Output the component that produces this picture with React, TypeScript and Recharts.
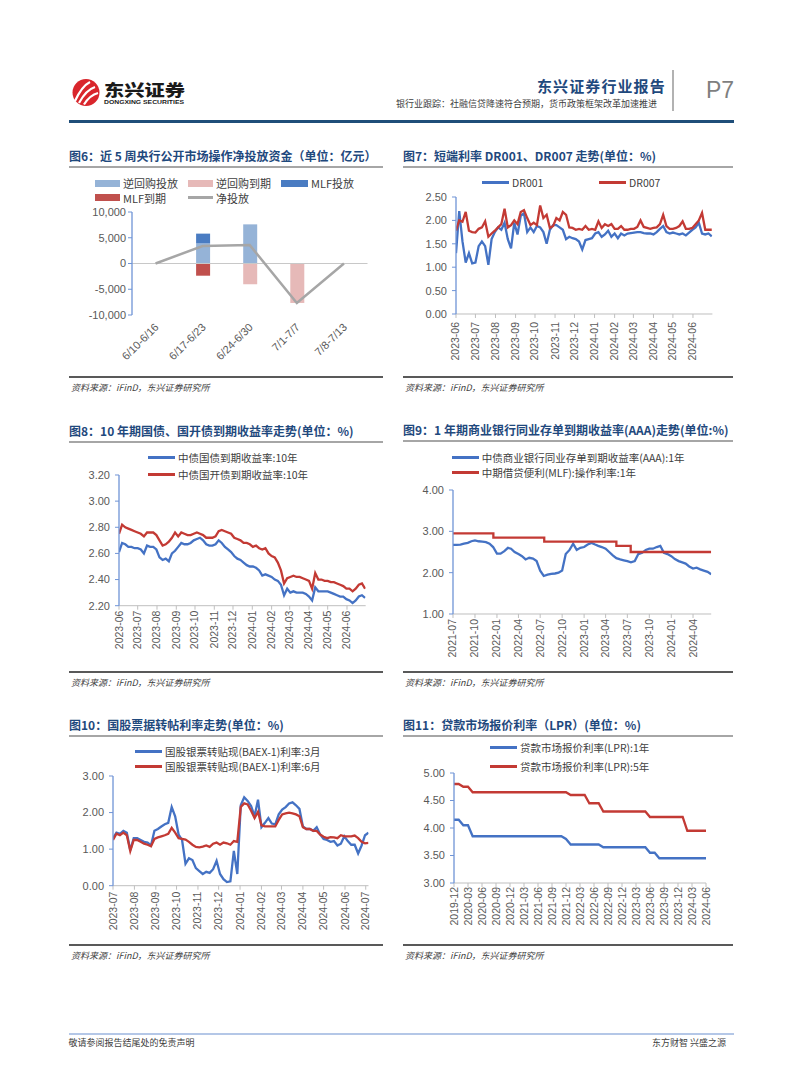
import React from 'react';
import { ComposedChart, LineChart, Line, Bar, XAxis, YAxis, ReferenceLine } from 'recharts';

const NUM_FONT = '"Liberation Sans", Arial, "Noto Sans CJK SC", sans-serif';
const CJK_FONT = '"Noto Sans CJK SC", "Noto Sans", sans-serif';
const TXT = '#595959';
const AXIS_BLUE = '#6F94D6';
const AXIS_GRAY = '#BFBFBF';
const BLUE = '#4472C4';
const RED = '#C33A34';
const DAY = 86400000;

// ---------------- Fig 6 data ----------------
const weekCats = ['6/10-6/16', '6/17-6/23', '6/24-6/30', '7/1-7/7', '7/8-7/13'];
const rrInject = [0, 3900, 7600, 0, 0];
const rrMature = [0, 0, -4030, -7660, 0];
const mlfInject = [0, 1900, 0, 0, 0];
const mlfMature = [0, -2370, 0, 0, 0];
const netInject = [0, 3400, 3570, -7660, 0];
const fig6Ticks = [-10000, -5000, 0, 5000, 10000];

// ---------------- Fig 7 data (5-day sampling from 2023-06-01) ----------------
const drStart = '2023-06-01';
const drEnd = '2024-07-01';
const dr001 = [1.30, 2.20, 1.55, 1.10, 1.30, 1.08, 1.10, 1.45, 1.55, 1.45,
  1.05, 1.60, 1.75, 1.85, 1.80, 1.95, 1.60, 1.40, 1.95, 1.70,
  2.10, 2.15, 1.75, 1.85, 1.75, 1.88, 1.85, 1.75, 1.50, 1.80,
  1.90, 1.90, 1.85, 1.80, 1.60, 1.65, 1.62, 1.60, 1.55, 1.38,
  1.58, 1.60, 1.62, 1.72, 1.75, 1.65, 1.70, 1.78, 1.65, 1.72,
  1.62, 1.72, 1.68, 1.72, 1.73, 1.74, 1.75, 1.75, 1.73, 1.72,
  1.72, 1.70, 1.75, 1.82, 1.88, 1.75, 1.72, 1.74, 1.72, 1.70,
  1.72, 1.68, 1.74, 1.80, 1.85, 1.95, 1.72, 1.70, 1.72, 1.66];
const dr007 = [1.78, 2.00, 1.97, 2.18, 1.78, 1.75, 1.74, 1.82, 1.85, 1.98,
  1.65, 1.72, 1.78, 1.85, 1.92, 2.25, 1.85, 1.90, 2.00, 1.92,
  2.18, 2.22, 2.05, 1.90, 1.95, 1.90, 2.32, 2.05, 2.12, 1.84,
  1.88, 2.05, 2.00, 2.18, 2.12, 1.85, 1.84, 1.80, 1.82, 1.80,
  1.88, 1.80, 1.82, 1.80, 1.98, 1.84, 1.92, 1.88, 1.92, 1.82,
  1.82, 1.88, 1.80, 1.80, 1.82, 1.82, 1.86, 2.00, 1.86, 1.84,
  1.82, 1.84, 1.85, 1.92, 2.12, 1.88, 1.82, 1.82, 1.84, 1.88,
  1.98, 1.82, 1.82, 1.84, 1.92, 2.00, 2.16, 1.80, 1.80, 1.80];
const drMonths = ['2023-06', '2023-07', '2023-08', '2023-09', '2023-10', '2023-11', '2023-12',
  '2024-01', '2024-02', '2024-03', '2024-04', '2024-05', '2024-06'];

// ---------------- Fig 8 data (5-day sampling from 2023-06-01) ----------------
const bondStart = '2023-06-01';
const bondEnd = '2024-07-01';
const gov10y = [2.61, 2.68, 2.67, 2.65, 2.65, 2.64, 2.64, 2.63, 2.60, 2.66,
  2.65, 2.65, 2.63, 2.57, 2.55, 2.56, 2.54, 2.60, 2.62, 2.65,
  2.68, 2.67, 2.67, 2.68, 2.70, 2.71, 2.72, 2.70, 2.67, 2.66,
  2.66, 2.67, 2.70, 2.68, 2.65, 2.63, 2.61, 2.58, 2.56, 2.55,
  2.53, 2.51, 2.50, 2.50, 2.49, 2.47, 2.43, 2.44, 2.43, 2.42,
  2.40, 2.39, 2.36, 2.28, 2.33, 2.30, 2.31, 2.30, 2.30, 2.30,
  2.29, 2.27, 2.24, 2.34, 2.31, 2.31, 2.31, 2.31, 2.30, 2.29,
  2.28, 2.27, 2.27, 2.25, 2.24, 2.22, 2.24, 2.27, 2.28, 2.26];
const cdb10y = [2.75, 2.82, 2.80, 2.79, 2.78, 2.77, 2.76, 2.75, 2.73, 2.76,
  2.76, 2.76, 2.74, 2.70, 2.66, 2.67, 2.69, 2.72, 2.76, 2.73,
  2.76, 2.75, 2.74, 2.74, 2.75, 2.76, 2.75, 2.74, 2.72, 2.72,
  2.72, 2.73, 2.77, 2.78, 2.77, 2.76, 2.75, 2.72, 2.71, 2.70,
  2.68, 2.68, 2.67, 2.65, 2.66, 2.64, 2.63, 2.64, 2.60, 2.58,
  2.57, 2.53, 2.47, 2.37, 2.41, 2.42, 2.43, 2.42, 2.42, 2.41,
  2.40, 2.39, 2.33, 2.45, 2.40, 2.40, 2.39, 2.39, 2.38, 2.38,
  2.37, 2.36, 2.35, 2.33, 2.33, 2.31, 2.33, 2.36, 2.37, 2.33];

// ---------------- Fig 9 data (semi-monthly from 2021-07) ----------------
const ncdStartMonth = '2021-07';
const ncdEnd = '2024-06-16';
const ncd1y = [2.67, 2.67, 2.68, 2.70, 2.72, 2.76, 2.78, 2.76, 2.75, 2.74, 2.70, 2.62,
  2.46, 2.46, 2.52, 2.60, 2.58, 2.50, 2.45, 2.40, 2.32, 2.36, 2.34, 2.28,
  2.05, 1.92, 1.95, 1.97, 1.98, 2.00, 2.05, 2.45, 2.55, 2.70, 2.55, 2.60,
  2.62, 2.68, 2.72, 2.68, 2.65, 2.62, 2.58, 2.50, 2.42, 2.35, 2.32, 2.30,
  2.28, 2.25, 2.28, 2.45, 2.48, 2.55, 2.58, 2.58, 2.62, 2.65, 2.48, 2.45,
  2.40, 2.33, 2.28, 2.25, 2.22, 2.15, 2.10, 2.12, 2.08, 2.05, 2.02, 1.96];
const mlfDates = ['2021-07-01', '2021-12-17', '2022-07-18', '2023-05-16', '2023-07-15', '2024-06-16'];
const mlfRate = [2.95, 2.85, 2.75, 2.65, 2.50, 2.50];
const ncdTickLabels = ['2021-07', '2021-10', '2022-01', '2022-04', '2022-07', '2022-10',
  '2023-01', '2023-04', '2023-07', '2023-10', '2024-01', '2024-04'];

// ---------------- Fig 10 data (5-day sampling from 2023-07-01) ----------------
const baexStart = '2023-07-01';
const baexEnd = '2024-07-05';
const baex3m = [1.30, 1.45, 1.42, 1.50, 1.45, 0.97, 1.30, 1.30, 1.25, 1.20,
  1.18, 1.10, 1.50, 1.55, 1.62, 1.68, 1.72, 2.15, 1.90, 1.40,
  1.25, 0.60, 0.75, 0.70, 0.48, 0.40, 0.32, 0.38, 0.35, 0.45,
  0.68, 0.32, 0.18, 0.10, 0.12, 0.95, 0.32, 2.20, 2.42, 2.32,
  2.18, 1.90, 2.35, 1.60, 1.72, 1.85, 1.70, 1.68, 1.95, 2.08,
  2.15, 2.25, 2.28, 2.20, 2.10, 1.62, 1.55, 1.55, 1.50, 1.60,
  1.40, 1.28, 1.25, 1.20, 1.22, 1.10, 1.15, 1.35, 1.22, 1.12,
  1.12, 0.88, 1.10, 1.38, 1.45];
const baex6m = [1.25, 1.42, 1.38, 1.45, 1.38, 0.95, 1.25, 1.25, 1.20, 1.15,
  1.12, 1.08, 1.28, 1.32, 1.35, 1.38, 1.42, 1.58, 1.45, 1.30,
  1.28, 1.26, 1.20, 1.12, 1.06, 1.05, 1.07, 1.10, 1.06, 1.15,
  1.18, 1.12, 1.18, 1.16, 1.12, 1.22, 1.20, 2.15, 2.25, 2.22,
  2.05, 1.85, 2.02, 1.65, 1.62, 1.62, 1.62, 1.62, 1.80, 1.95,
  1.98, 2.00, 1.98, 1.95, 1.90, 1.60, 1.55, 1.55, 1.50, 1.50,
  1.40, 1.34, 1.30, 1.33, 1.32, 1.30, 1.38, 1.35, 1.35, 1.35,
  1.37, 1.30, 1.20, 1.16, 1.17];
const baexMonths = ['2023-07', '2023-08', '2023-09', '2023-10', '2023-11', '2023-12', '2024-01',
  '2024-02', '2024-03', '2024-04', '2024-05', '2024-06', '2024-07'];

// ---------------- Fig 11 data (monthly from 2019-12) ----------------
const lprStartMonth = '2019-12';
const lpr1y = [4.15, 4.15, 4.05, 4.05, 3.85, 3.85, 3.85, 3.85, 3.85, 3.85,
  3.85, 3.85, 3.85, 3.85, 3.85, 3.85, 3.85, 3.85, 3.85, 3.85,
  3.85, 3.85, 3.85, 3.85, 3.80, 3.70, 3.70, 3.70, 3.70, 3.70,
  3.70, 3.70, 3.65, 3.65, 3.65, 3.65, 3.65, 3.65, 3.65, 3.65,
  3.65, 3.65, 3.55, 3.55, 3.45, 3.45, 3.45, 3.45, 3.45, 3.45,
  3.45, 3.45, 3.45, 3.45, 3.45];
const lpr5y = [4.80, 4.80, 4.75, 4.75, 4.65, 4.65, 4.65, 4.65, 4.65, 4.65,
  4.65, 4.65, 4.65, 4.65, 4.65, 4.65, 4.65, 4.65, 4.65, 4.65,
  4.65, 4.65, 4.65, 4.65, 4.65, 4.60, 4.60, 4.60, 4.60, 4.45,
  4.45, 4.45, 4.30, 4.30, 4.30, 4.30, 4.30, 4.30, 4.30, 4.30,
  4.30, 4.30, 4.20, 4.20, 4.20, 4.20, 4.20, 4.20, 4.20, 4.20,
  3.95, 3.95, 3.95, 3.95, 3.95];

// ---------------- helpers ----------------
const ts = (d: string) => Date.parse(d);
const daySeq = (start: string, step: number, n: number) =>
  Array.from({ length: n }, (_, i) => ts(start) + i * step * DAY);
const addMonths = (ym: string, k: number) => {
  const [y, m] = ym.split('-').map(Number);
  const tot = y * 12 + (m - 1) + k;
  return `${Math.floor(tot / 12)}-${String((tot % 12) + 1).padStart(2, '0')}`;
};
const monthFmt = (v: number) => new Date(v).toISOString().slice(0, 7);

const fig6Data = weekCats.map((c, i) => ({
  cat: c, rrIn: rrInject[i], rrOut: rrMature[i], mlfIn: mlfInject[i], mlfOut: mlfMature[i], net: netInject[i],
}));

const drT = daySeq(drStart, 5, dr001.length);
const fig7Data = drT.map((t, i) => ({ t, a: dr001[i], b: dr007[i] }));

const bondT = daySeq(bondStart, 5, gov10y.length);
const fig8Data = bondT.map((t, i) => ({ t, a: gov10y[i], b: cdb10y[i] }));

const ncdDates: string[] = [];
for (let k = 0; k < ncd1y.length / 2; k++) {
  const m = addMonths(ncdStartMonth, k);
  ncdDates.push(`${m}-01`, `${m}-16`);
}
const fig9Data = [
  ...ncdDates.map((d, i) => ({ t: ts(d), a: ncd1y[i] as number | null, b: null as number | null })),
  ...mlfDates.map((d, i) => ({ t: ts(d), a: null as number | null, b: mlfRate[i] as number | null })),
].sort((p, q) => p.t - q.t);

const baexT = daySeq(baexStart, 5, baex3m.length);
const fig10Data = baexT.map((t, i) => ({ t, a: baex3m[i], b: baex6m[i] }));

const fig11Data = lpr1y.map((v, i) => ({ m: addMonths(lprStartMonth, i), a: v, b: lpr5y[i] }));

// ---------------- components ----------------
const vTick = (fmt: (v: any) => string, gap: number) => (props: any) => {
  const { x, y, payload } = props;
  return (
    <text transform={`translate(${x},${y + gap}) rotate(-90)`} textAnchor="end" dominantBaseline="central"
      fontSize={10.5} fill={TXT} fontFamily={NUM_FONT}>{fmt(payload.value)}</text>
  );
};

const rotTick = (props: any) => {
  const { x, y, payload } = props;
  return (
    <text transform={`translate(${x + 1},${y + 8}) rotate(-45)`} textAnchor="end" dominantBaseline="central"
      fontSize={11} fill={TXT} fontFamily={NUM_FONT}>{payload.value}</text>
  );
};

type Series = { key: string; color: string; step?: boolean };

function TimeChart(p: {
  pl: number; pt: number; pr: number; pb: number; data: any[]; xDomain: [number, number]; xTicks: number[];
  yDomain: [number, number]; yTicks: number[]; series: Series[]; gap?: number;
}) {
  const yw = 50, xh = 50, mt = 5, mr = 10;
  const W = p.pr - p.pl + yw + mr;
  const H = p.pb - p.pt + mt + xh;
  return (
    <div style={{ position: 'absolute', left: p.pl - yw, top: p.pt - mt }}>
      <LineChart width={W} height={H} data={p.data} margin={{ top: mt, right: mr, left: 0, bottom: 0 }}>
        <XAxis type="number" dataKey="t" domain={p.xDomain} ticks={p.xTicks} interval={0} allowDataOverflow
          height={xh} axisLine={{ stroke: AXIS_GRAY }} tickLine={{ stroke: AXIS_GRAY }} tickSize={4} tickMargin={2}
          tick={vTick(monthFmt, p.gap ?? 0)} />
        <YAxis type="number" domain={p.yDomain} ticks={p.yTicks} interval={0} allowDataOverflow width={yw}
          axisLine={{ stroke: AXIS_BLUE, strokeWidth: 1.3 }} tickLine={{ stroke: AXIS_BLUE }} tickSize={4} tickMargin={5}
          tick={{ fontSize: 11, fill: TXT, fontFamily: NUM_FONT }} tickFormatter={(v: number) => v.toFixed(2)} />
        {p.series.map((s) => (
          <Line key={s.key} type={s.step ? 'stepAfter' : 'linear'} dataKey={s.key} stroke={s.color} strokeWidth={2.3}
            dot={false} activeDot={false} connectNulls isAnimationActive={false} />
        ))}
      </LineChart>
    </div>
  );
}

type LegItem = { kind: 'line' | 'rect'; color: string; label: string; x: number; y: number; w?: number; fs?: number };
const Legend = ({ items }: { items: LegItem[] }) => (
  <>
    {items.map((it, i) => (
      <div key={i} style={{
        position: 'absolute', left: it.x, top: it.y - 8, height: 16, display: 'flex', alignItems: 'center',
        whiteSpace: 'nowrap', fontFamily: CJK_FONT, fontSize: it.fs ?? 10.5, color: '#404040',
      }}>
        <span style={{ display: 'inline-block', width: it.w ?? 27, height: it.kind === 'line' ? 3 : 7, background: it.color, marginRight: 3 }} />
        <span>{it.label}</span>
      </div>
    ))}
  </>
);

const Title = ({ x, y, text }: { x: number; y: number; text: string }) => (
  <div style={{
    position: 'absolute', left: x, top: y - 9, height: 18, lineHeight: '18px', fontFamily: CJK_FONT,
    fontSize: 12, fontWeight: 700, color: '#1F497D', whiteSpace: 'nowrap',
  }}>{text}</div>
);
const HLine = ({ x1, x2, y, color, w }: { x1: number; x2: number; y: number; color: string; w: number }) => (
  <div style={{ position: 'absolute', left: x1, top: y - w / 2, width: x2 - x1, height: w, background: color }} />
);
const Source = ({ x, y }: { x: number; y: number }) => (
  <div style={{
    position: 'absolute', left: x, top: y - 7, lineHeight: '14px', fontFamily: CJK_FONT, fontSize: 9,
    fontStyle: 'italic', color: '#404040', whiteSpace: 'nowrap',
  }}>资料来源：iFinD，东兴证券研究所</div>
);

const Panel = ({ x1, x2, titleY, title, bottomY, source = true }: any) => (
  <>
    <Title x={x1} y={titleY} text={title} />
    <HLine x1={x1} x2={x2} y={titleY + 11} color="#A6A6A6" w={1.5} />
    <HLine x1={x1} x2={x2} y={bottomY} color="#595959" w={1.5} />
    {source && <Source x={x1 + 2} y={bottomY + 11} />}
  </>
);

function Fig6() {
  const pl = 132, pr = 367.5, pt = 212, pb = 315;
  const yw = 60, mt = 5, mr = 10, xh = 60;
  return (
    <div style={{ position: 'absolute', left: pl - yw, top: pt - mt }}>
      <ComposedChart width={pr - pl + yw + mr} height={pb - pt + mt + xh} data={fig6Data} stackOffset="sign"
        margin={{ top: mt, right: mr, left: 0, bottom: 0 }}>
        <XAxis dataKey="cat" scale="band" axisLine={false} tickLine={false} tickSize={0} tickMargin={2} height={xh}
          interval={0} tick={rotTick} />
        <YAxis type="number" domain={[-10000, 10000]} ticks={fig6Ticks} interval={0} width={yw}
          axisLine={{ stroke: AXIS_BLUE, strokeWidth: 1.3 }} tickLine={{ stroke: AXIS_BLUE }} tickSize={4} tickMargin={2}
          tick={{ fontSize: 11, fill: TXT, fontFamily: NUM_FONT }}
          tickFormatter={(v: number) => v.toLocaleString('en-US')} />
        <ReferenceLine y={0} stroke="#C8C8C8" strokeWidth={1.2} />
        <Bar dataKey="rrIn" stackId="s" fill="#95B3D7" barSize={14} isAnimationActive={false} />
        <Bar dataKey="rrOut" stackId="s" fill="#E6B9B8" barSize={14} isAnimationActive={false} />
        <Bar dataKey="mlfIn" stackId="s" fill="#4A7CC2" barSize={14} isAnimationActive={false} />
        <Bar dataKey="mlfOut" stackId="s" fill="#C0504D" barSize={14} isAnimationActive={false} />
        <Line type="linear" dataKey="net" stroke="#A6A6A6" strokeWidth={2.5} dot={false} activeDot={false} isAnimationActive={false} />
      </ComposedChart>
    </div>
  );
}

function Fig11() {
  const pl = 454, pr = 706, pt = 772.7, pb = 882.7;
  const yw = 50, xh = 50, mt = 5, mr = 10;
  return (
    <div style={{ position: 'absolute', left: pl - yw, top: pt - mt }}>
      <LineChart width={pr - pl + yw + mr} height={pb - pt + mt + xh} data={fig11Data}
        margin={{ top: mt, right: mr, left: 0, bottom: 0 }}>
        <XAxis dataKey="m" scale="point" interval={2} height={xh} axisLine={{ stroke: AXIS_GRAY }}
          tickLine={{ stroke: AXIS_GRAY }} tickSize={4} tickMargin={2} tick={vTick((v) => String(v), -2)} />
        <YAxis type="number" domain={[3, 5]} ticks={[3, 3.5, 4, 4.5, 5]} interval={0} width={yw}
          axisLine={{ stroke: AXIS_BLUE, strokeWidth: 1.3 }} tickLine={{ stroke: AXIS_BLUE }} tickSize={4} tickMargin={5}
          tick={{ fontSize: 11, fill: TXT, fontFamily: NUM_FONT }} tickFormatter={(v: number) => v.toFixed(2)} />
        <Line type="linear" dataKey="a" stroke={BLUE} strokeWidth={2.3} dot={false} activeDot={false} isAnimationActive={false} />
        <Line type="linear" dataKey="b" stroke={RED} strokeWidth={2.3} dot={false} activeDot={false} isAnimationActive={false} />
      </LineChart>
    </div>
  );
}

function Header() {
  return (
    <>
      <svg style={{ position: 'absolute', left: 0, top: 0 }} width={802} height={130}>
        <circle cx={86} cy={92.5} r={13.5} fill="#D9262C" />
        <path d="M75 101 Q82 86 90 82" stroke="#fff" strokeWidth={2.2} fill="none" />
        <path d="M79 103 Q86 90 95 87" stroke="#fff" strokeWidth={2.2} fill="none" />
        <path d="M84 104.5 Q90 95 98 93" stroke="#fff" strokeWidth={2.2} fill="none" />
        <text x={104} y={95.5} fontSize={16} fontWeight={900} fontFamily={CJK_FONT} fill="#1a1a1a"
          textLength={81} lengthAdjust="spacingAndGlyphs">东兴证券</text>
        <text x={104} y={104} fontSize={5.6} fontWeight={700} fontFamily={NUM_FONT} fill="#1a1a1a"
          textLength={80} lengthAdjust="spacingAndGlyphs">DONGXING SECURITIES</text>
        <line x1={673} y1={70} x2={673} y2={111} stroke="#7F7F7F" strokeWidth={1.2} />
        <text x={706} y={98} fontSize={23} fontFamily={NUM_FONT} fill="#7F7F7F">P7</text>
      </svg>
      <div style={{
        position: 'absolute', left: 537, top: 76, lineHeight: '20px', fontFamily: CJK_FONT, fontSize: 15,
        fontWeight: 700, color: '#1F497D', letterSpacing: 1.1, whiteSpace: 'nowrap',
      }}>东兴证券行业报告</div>
      <div style={{
        position: 'absolute', left: 396, top: 97, lineHeight: '13px', fontFamily: CJK_FONT, fontSize: 9,
        color: '#404040', whiteSpace: 'nowrap',
      }}>银行业跟踪：社融信贷降速符合预期，货币政策框架改革加速推进</div>
      <HLine x1={68.5} x2={733.5} y={121} color="#1F4E79" w={3} />
    </>
  );
}

function Footer() {
  return (
    <>
      <HLine x1={68.5} x2={733.5} y={1034} color="#B4C7E7" w={2} />
      <div style={{ position: 'absolute', left: 68.5, top: 1036, lineHeight: '14px', fontFamily: CJK_FONT, fontSize: 9, color: '#404040' }}>
        敬请参阅报告结尾处的免责声明</div>
      <div style={{ position: 'absolute', left: 652, top: 1036, lineHeight: '14px', fontFamily: CJK_FONT, fontSize: 9, color: '#404040', whiteSpace: 'nowrap' }}>
        东方财智 兴盛之源</div>
    </>
  );
}

export default function App() {
  const L1 = 69, L2 = 383, R1 = 403, R2 = 733;
  return (
    <div style={{ position: 'absolute', left: 0, top: 0, width: 802, height: 1087, background: '#fff', overflow: 'hidden' }}>
      <Header />

      {/* Fig 6 */}
      <Panel x1={L1} x2={L2} titleY={156} bottomY={377} title="图6：近 5 周央行公开市场操作净投放资金（单位：亿元）" />
      <Fig6 />
      <Legend items={[
        { kind: 'rect', color: '#95B3D7', label: '逆回购投放', x: 95, y: 183.3, w: 25, fs: 11 },
        { kind: 'rect', color: '#E6B9B8', label: '逆回购到期', x: 188, y: 183.3, w: 25, fs: 11 },
        { kind: 'rect', color: '#4A7CC2', label: 'MLF投放', x: 281, y: 183.3, w: 27, fs: 11 },
        { kind: 'rect', color: '#C0504D', label: 'MLF到期', x: 95, y: 197.7, w: 25, fs: 11 },
        { kind: 'line', color: '#A6A6A6', label: '净投放', x: 188, y: 197.7, w: 25, fs: 11 },
      ]} />

      {/* Fig 7 */}
      <Panel x1={R1} x2={R2} titleY={156} bottomY={377} title="图7：短端利率 DR001、DR007 走势(单位：%)" />
      <TimeChart pl={455.5} pt={197} pr={711.9} pb={314} data={fig7Data}
        xDomain={[ts(drStart), ts(drEnd)]} xTicks={drMonths.map((m) => ts(m + '-01'))}
        yDomain={[0, 2.5]} yTicks={[0, 0.5, 1, 1.5, 2, 2.5]} gap={2}
        series={[{ key: 'a', color: BLUE }, { key: 'b', color: RED }]} />
      <Legend items={[
        { kind: 'line', color: BLUE, label: 'DR001', x: 482, y: 182 },
        { kind: 'line', color: RED, label: 'DR007', x: 599, y: 182 },
      ]} />

      {/* Fig 8 */}
      <Panel x1={L1} x2={L2} titleY={431} bottomY={672} title="图8：10 年期国债、国开债到期收益率走势(单位：%)" />
      <TimeChart pl={118.7} pt={475} pr={365.4} pb={605.7} data={fig8Data}
        xDomain={[ts(bondStart), ts(bondEnd)]} xTicks={drMonths.map((m) => ts(m + '-01'))}
        yDomain={[2.2, 3.2]} yTicks={[2.2, 2.4, 2.6, 2.8, 3.0, 3.2]} gap={-1}
        series={[{ key: 'a', color: BLUE }, { key: 'b', color: RED }]} />
      <Legend items={[
        { kind: 'line', color: BLUE, label: '中债国债到期收益率:10年', x: 148, y: 457.7 },
        { kind: 'line', color: RED, label: '中债国开债到期收益率:10年', x: 148, y: 474.3 },
      ]} />

      {/* Fig 9 */}
      <Panel x1={R1} x2={R2} titleY={430} bottomY={672} title="图9：1 年期商业银行同业存单到期收益率(AAA)走势(单位:%)" />
      <TimeChart pl={452.7} pt={490} pr={710.9} pb={614} data={fig9Data}
        xDomain={[ts('2021-07-01'), ts(ncdEnd)]} xTicks={ncdTickLabels.map((m) => ts(m + '-01'))}
        yDomain={[1, 4]} yTicks={[1, 2, 3, 4]} gap={-1}
        series={[{ key: 'a', color: BLUE }, { key: 'b', color: RED, step: true }]} />
      <Legend items={[
        { kind: 'line', color: BLUE, label: '中债商业银行同业存单到期收益率(AAA):1年', x: 451.7, y: 457.7 },
        { kind: 'line', color: RED, label: '中期借贷便利(MLF):操作利率:1年', x: 451.7, y: 472.3 },
      ]} />

      {/* Fig 10 */}
      <Panel x1={L1} x2={L2} titleY={725} bottomY={945} title="图10：国股票据转帖利率走势(单位：%)" />
      <TimeChart pl={113.3} pt={776} pr={368.8} pb={885.7} data={fig10Data}
        xDomain={[ts(baexStart), ts(baexEnd)]} xTicks={baexMonths.map((m) => ts(m + '-01'))}
        yDomain={[0, 3]} yTicks={[0, 1, 2, 3]} gap={0}
        series={[{ key: 'a', color: BLUE }, { key: 'b', color: RED }]} />
      <Legend items={[
        { kind: 'line', color: BLUE, label: '国股银票转贴现(BAEX-1)利率:3月', x: 135, y: 751.7 },
        { kind: 'line', color: RED, label: '国股银票转贴现(BAEX-1)利率:6月', x: 135, y: 766.7 },
      ]} />

      {/* Fig 11 */}
      <Panel x1={R1} x2={R2} titleY={725} bottomY={945} title="图11：贷款市场报价利率（LPR）(单位：%)" />
      <Fig11 />
      <Legend items={[
        { kind: 'line', color: BLUE, label: '贷款市场报价利率(LPR):1年', x: 490, y: 747.3 },
        { kind: 'line', color: RED, label: '贷款市场报价利率(LPR):5年', x: 490, y: 766.7 },
      ]} />

      <Footer />
    </div>
  );
}
